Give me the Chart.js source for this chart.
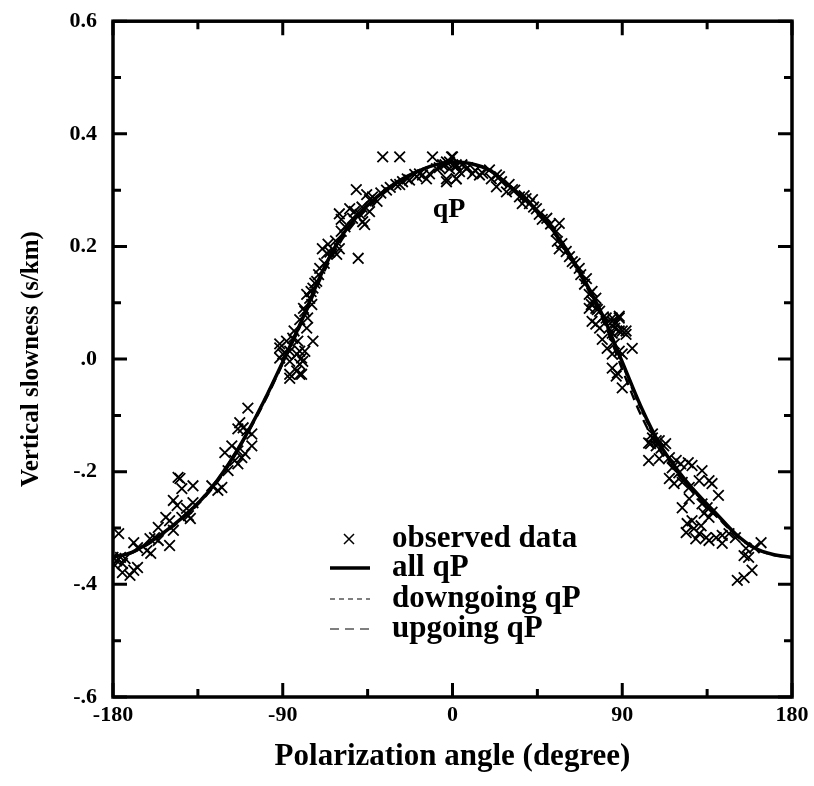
<!DOCTYPE html>
<html>
<head>
<meta charset="utf-8">
<script src="https://cdn.jsdelivr.net/npm/chart.js@4.4.1/dist/chart.umd.min.js"></script>
<style>
  html, body { margin: 0; padding: 0; background: #fff; }
  #wrap { width: 814px; height: 786px; position: relative; }
</style>
</head>
<body>
<div id="wrap"><canvas id="slowChart"></canvas></div>
<script>
// curve angles (degree)
const curveAngle = [-180, -170, -160, -150, -140, -130, -120, -110, -100, -90, -80, -70, -60, -50, -40, -30, -20, -10,
  0, 10, 20, 30, 40, 50, 60, 70, 80, 90, 100, 110, 120, 130, 140, 150, 160, 170, 180];

// fitted vertical slowness (s/km)
const allQP = [-0.352, -0.343, -0.324, -0.300, -0.272, -0.238, -0.193, -0.138, -0.075, -0.005, 0.068, 0.148, 0.212, 0.256, 0.288, 0.313, 0.331, 0.344,
  0.350, 0.347, 0.335, 0.308, 0.280, 0.243, 0.197, 0.140, 0.075, -0.005, -0.085, -0.152, -0.200, -0.240, -0.275, -0.310, -0.335, -0.347, -0.352];
const downQP = [-0.352, -0.343, -0.325, -0.300, -0.271, -0.236, -0.191, -0.137, -0.073, -0.004, 0.070, 0.150, 0.214, 0.257, 0.289, 0.314, 0.332, 0.345,
  0.350, 0.347, 0.334, 0.307, 0.279, 0.242, 0.196, 0.139, 0.073, -0.010, -0.090, -0.156, -0.203, -0.243, -0.277, -0.311, -0.335, -0.347, -0.352];
const upQP = [-0.352, -0.344, -0.326, -0.302, -0.274, -0.240, -0.196, -0.140, -0.078, -0.008, 0.064, 0.142, 0.205, 0.250, 0.284, 0.311, 0.330, 0.344,
  0.350, 0.347, 0.334, 0.306, 0.277, 0.240, 0.193, 0.135, 0.068, -0.018, -0.100, -0.162, -0.207, -0.246, -0.279, -0.312, -0.336, -0.348, -0.352];

// observed data: polarization angle and vertical slowness
const obsAngle = [
  -108.5, -112.8, -111, -109, -106.4, -113.8,
  -120.7, -117, -113.8, -111.7, -110, -106.4, -115.4, -113.8, -119,
  -145.5, -144.5, -137.6, -143.5, -127.6, -124.4, -122.3,
  -148, -146, -137.6, -141, -152, -150, -143.5, -140, -139,
  -156, -148, -158, -160.4, -156, -150, -169, -167, -162, -160, -177,
  -180, -178, -175, -173.6, -179, -176, -175, -171, -167, -169,
  -37, -28,
  -28, -26.5, -22.8, -19, -15.9, -12.2, -8.5, -5.3, -1.6, 2, -10.6, -0.5, -3.2, 2, -13.8, -17.5,
  -51, -45.5, -42.4, -40, -44,
  -60, -54.5, -52, -49, -44, -59, -47.6, -46.6, -59, -50,
  -69, -66, -63.5, -61.4, -66.7, -60,
  -70.4, -72, -74, -75.7, -77.3, -74.6, -78.3, -76.8,
  -91.6, -88, -84.7, -82, -77.3, -74, -90, -86.3, -82.6, -80, -78.3, -86.3, -81, -82.6, -86.3, -80, -91.6,
  -91.6, -88, -81, -79.4, -81, -86.3,
  -84, -81, -79, -75, -73, -71, -68, -65, -62, -57, -53, -48, -38, -35, -33, -30, -24, -20, -7, -4,
  0, -3.2, -1.6, 2, 3.7, -3.2, 2, 7.4, 10.6, 14.3,
  5, 8, 12, 16, 26, 33, 38, 43, 50, 52, 58, 65, 68, 78, 80, 86,
  19.6, 23.3, 20.6, 24.9, 23.3, 30, 28.6, 31.8,
  35.5, 39, 40.8, 42.4, 37, 44.5, 47.6, 46,
  56.6, 55, 55.6, 56.6, 60.3, 62, 63.5, 67.2,
  71, 70, 72.5, 74, 76, 72.5,
  81.5, 84.7, 88.4, 92, 88.4, 76, 84.7,
  74, 76, 73.6, 76.8, 74, 78,
  84.7, 88.4, 86.8, 90, 92, 83, 79.4, 82, 85.8, 88.4, 90, 95.3, 84.7,
  84.7, 87.4, 86.8, 90,
  106, 109.6, 112, 108, 104,
  106, 108, 105, 110.6, 113, 104, 109.6,
  115, 118.6, 116.5, 121, 125, 127, 120,
  115, 117.5, 121.8, 125.5, 132.3, 136, 137.6, 130.8,
  125.5, 121.8, 132.3, 135, 137.6, 133.4, 141, 136,
  124.4, 128, 130.8, 134.5, 127, 131.8, 136, 139.8, 143, 129, 123.9,
  146.6, 150, 143,
  155.6, 154.6, 157, 160, 163.6,
  151, 154.6, 158.8
];
const obsSlow = [
  -0.087, -0.113, -0.122, -0.127, -0.133, -0.124,
  -0.166, -0.154, -0.163, -0.175, -0.168, -0.154, -0.180, -0.186, -0.198,
  -0.210, -0.212, -0.225, -0.230, -0.225, -0.233, -0.228,
  -0.251, -0.260, -0.255, -0.265, -0.281, -0.287, -0.281, -0.278, -0.283,
  -0.299, -0.304, -0.317, -0.319, -0.322, -0.331, -0.326, -0.335, -0.340, -0.345, -0.310,
  -0.352, -0.358, -0.363, -0.354, -0.366, -0.352, -0.379, -0.384, -0.370, -0.375,
  0.359, 0.359,
  0.310, 0.315, 0.318, 0.324, 0.327, 0.329, 0.338, 0.345, 0.350, 0.342, 0.359, 0.359, 0.315, 0.320, 0.320, 0.329,
  0.301, 0.292, 0.288, 0.280, 0.283,
  0.258, 0.267, 0.262, 0.257, 0.262, 0.248, 0.244, 0.239, 0.227, 0.179,
  0.196, 0.204, 0.195, 0.186, 0.188, 0.196,
  0.161, 0.138, 0.126, 0.108, 0.115, 0.097, 0.085, 0.073,
  0.027, 0.032, 0.037, 0.032, 0.055, 0.032, 0.009, 0.014, 0.009, 0.002, 0.014, -0.004, -0.009, -0.021, -0.027, -0.027, 0.002,
  0.020, 0.009, 0.014, -0.004, -0.027, -0.034,
  0.050, 0.070, 0.090, 0.120, 0.135, 0.150, 0.170, 0.190, 0.210, 0.235, 0.250, 0.270, 0.295, 0.300, 0.305, 0.310, 0.320, 0.328, 0.340, 0.345,
  0.359, 0.350, 0.338, 0.345, 0.333, 0.320, 0.320, 0.338, 0.329, 0.327,
  0.345, 0.340, 0.335, 0.330, 0.315, 0.300, 0.290, 0.270, 0.250, 0.240, 0.205, 0.170, 0.150, 0.085, 0.075, 0.055,
  0.336, 0.327, 0.320, 0.324, 0.306, 0.310, 0.297, 0.301,
  0.288, 0.285, 0.276, 0.283, 0.276, 0.267, 0.248, 0.257,
  0.241, 0.227, 0.209, 0.196, 0.191, 0.182, 0.173, 0.161,
  0.143, 0.133, 0.115, 0.103, 0.090, 0.090,
  0.073, 0.067, 0.073, 0.050, 0.050, 0.062, 0.046,
  0.120, 0.108, 0.097, 0.088, 0.067, 0.055,
  0.073, 0.076, 0.064, 0.050, 0.044, 0.055, 0.035, 0.019, 0.027, 0.014, 0.009, 0.019, 0.009,
  -0.016, -0.025, -0.030, -0.051,
  -0.140, -0.145, -0.154, -0.154, -0.149,
  -0.133, -0.145, -0.150, -0.158, -0.150, -0.180, -0.177,
  -0.175, -0.180, -0.193, -0.186, -0.184, -0.189, -0.202,
  -0.212, -0.221, -0.219, -0.228, -0.198, -0.216, -0.221, -0.216,
  -0.248, -0.264, -0.257, -0.264, -0.272, -0.274, -0.242, -0.281,
  -0.292, -0.301, -0.310, -0.317, -0.287, -0.296, -0.322, -0.317, -0.327, -0.319, -0.308,
  -0.310, -0.317, -0.313,
  -0.336, -0.349, -0.352, -0.335, -0.326,
  -0.393, -0.388, -0.375
];

// axis ticks
const xTickValues = [-180, -135, -90, -45, 0, 45, 90, 135, 180];
const xTickLabels = ['-180', '', '-90', '', '0', '', '90', '', '180'];
const yTickValues = [-0.6, -0.5, -0.4, -0.3, -0.2, -0.1, 0, 0.1, 0.2, 0.3, 0.4, 0.5, 0.6];
const yTickLabels = ['-.6', '', '-.4', '', '-.2', '', '.0', '', '0.2', '', '0.4', '', '0.6'];

const legendItems = ['observed data', 'all qP', 'downgoing qP', 'upgoing qP'];

const serif = '"Liberation Serif", "Times New Roman", serif';

const toXY = (xs, ys) => xs.map((x, i) => ({ x: x, y: ys[i] }));

// frame, inward ticks, legend and curve label
const framePlugin = {
  id: 'frame',
  afterDraw(chart) {
    const ctx = chart.ctx;
    const a = chart.chartArea;
    const xs = chart.scales.x, ys = chart.scales.y;
    ctx.save();
    ctx.strokeStyle = '#000';
    ctx.lineWidth = 3.5;
    ctx.lineCap = 'butt';
    ctx.strokeRect(a.left, a.top, a.right - a.left, a.bottom - a.top);

    ctx.lineWidth = 3;
    xTickValues.forEach((v, i) => {
      const px = xs.getPixelForValue(v);
      const len = xTickLabels[i] ? 14 : 8;
      ctx.beginPath();
      ctx.moveTo(px, a.bottom); ctx.lineTo(px, a.bottom - len);
      ctx.moveTo(px, a.top); ctx.lineTo(px, a.top + len);
      ctx.stroke();
    });
    yTickValues.forEach((v, i) => {
      const py = ys.getPixelForValue(v);
      const len = yTickLabels[i] ? 14 : 8;
      ctx.beginPath();
      ctx.moveTo(a.left, py); ctx.lineTo(a.left + len, py);
      ctx.moveTo(a.right, py); ctx.lineTo(a.right - len, py);
      ctx.stroke();
    });

    // legend
    const lx = 330, tx = 392, rowY = [539, 568, 599, 629];
    ctx.fillStyle = '#000';
    ctx.font = 'bold 31px ' + serif;
    ctx.textBaseline = 'middle';
    legendItems.forEach((t, i) => ctx.fillText(t, tx, rowY[i]));

    ctx.lineWidth = 1.5;
    ctx.beginPath();
    ctx.moveTo(344, rowY[0] - 5); ctx.lineTo(354, rowY[0] + 5);
    ctx.moveTo(354, rowY[0] - 5); ctx.lineTo(344, rowY[0] + 5);
    ctx.stroke();

    ctx.lineWidth = 3.5;
    ctx.beginPath(); ctx.moveTo(lx, rowY[1]); ctx.lineTo(lx + 40, rowY[1]); ctx.stroke();
    ctx.lineWidth = 1.2;
    ctx.setLineDash([5, 4]);
    ctx.beginPath(); ctx.moveTo(lx, rowY[2]); ctx.lineTo(lx + 40, rowY[2]); ctx.stroke();
    ctx.setLineDash([9, 6]);
    ctx.beginPath(); ctx.moveTo(lx, rowY[3]); ctx.lineTo(lx + 40, rowY[3]); ctx.stroke();
    ctx.setLineDash([]);

    // curve label
    ctx.font = 'bold 28px ' + serif;
    ctx.textAlign = 'center';
    ctx.textBaseline = 'alphabetic';
    ctx.fillText('qP', 449, 217);
    ctx.restore();
  }
};

const ctx = document.getElementById('slowChart').getContext('2d');

const slowChart = new Chart(ctx, {
  type: 'scatter',
  data: {
    datasets: [
      {
        label: 'observed data',
        data: toXY(obsAngle, obsSlow),
        pointStyle: 'crossRot',
        pointRadius: 7.5,
        borderColor: '#000',
        borderWidth: 1.8,
        showLine: false
      },
      {
        label: 'all qP',
        data: toXY(curveAngle, allQP),
        showLine: true,
        cubicInterpolationMode: 'monotone',
        borderColor: '#000',
        borderWidth: 3.5,
        pointRadius: 0
      },
      {
        label: 'downgoing qP',
        data: toXY(curveAngle, downQP),
        showLine: true,
        cubicInterpolationMode: 'monotone',
        borderColor: '#000',
        borderWidth: 1.8,
        borderDash: [5, 4],
        pointRadius: 0
      },
      {
        label: 'upgoing qP',
        data: toXY(curveAngle, upQP),
        showLine: true,
        cubicInterpolationMode: 'monotone',
        borderColor: '#000',
        borderWidth: 2.4,
        borderDash: [10, 6],
        pointRadius: 0
      }
    ]
  },
  options: {
    responsive: true,
    maintainAspectRatio: false,
    animation: false,
    layout: { padding: { left: 0, top: 19, right: 22, bottom: 0 } },
    plugins: {
      legend: { display: false },
      tooltip: { enabled: false }
    },
    scales: {
      x: {
        type: 'linear',
        min: -180,
        max: 180,
        afterFit: s => { s.height = 89; },
        afterBuildTicks: s => { s.ticks = xTickValues.map(v => ({ value: v })); },
        grid: { display: false },
        border: { display: false },
        ticks: {
          autoSkip: false,
          maxRotation: 0,
          padding: -3,
          color: '#000',
          font: { family: serif, size: 22, weight: 'bold' },
          callback: (v, i) => xTickLabels[i]
        },
        title: {
          display: true,
          text: 'Polarization angle (degree)',
          color: '#000',
          font: { family: serif, size: 31, weight: 'bold' },
          padding: { top: 0, bottom: 10 }
        }
      },
      y: {
        type: 'linear',
        min: -0.6,
        max: 0.6,
        afterFit: s => { s.width = 113; },
        afterBuildTicks: s => { s.ticks = yTickValues.map(v => ({ value: v })); },
        grid: { display: false },
        border: { display: false },
        ticks: {
          autoSkip: false,
          padding: 8,
          color: '#000',
          font: { family: serif, size: 22, weight: 'bold' },
          callback: (v, i) => yTickLabels[i]
        },
        title: {
          display: true,
          text: 'Vertical slowness (s/km)',
          color: '#000',
          font: { family: serif, size: 25, weight: 'bold' },
          padding: { top: 17, bottom: 0 }
        }
      }
    }
  },
  plugins: [framePlugin]
});
</script>
</body>
</html>
